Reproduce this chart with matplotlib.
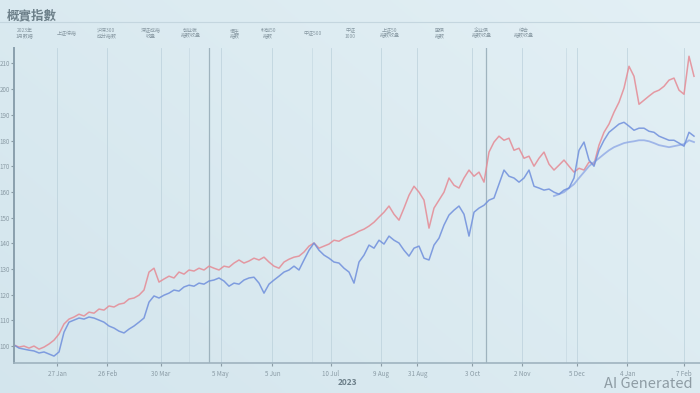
import matplotlib
matplotlib.use("Agg")
import matplotlib.pyplot as plt
import matplotlib.dates as mdates
import numpy as np
import pandas as pd

plt.rcParams['font.family'] = ['Noto Sans CJK SC', 'DejaVu Sans']

# --- data (index level) ---
start_date = "2023-01-01"
red_values = [100.4, 99.6, 100.0, 99.2, 100.0, 98.8, 99.6, 100.8, 102.3, 104.7,
              108.6, 110.5, 111.3, 112.4, 111.7, 113.2, 112.8, 114.4, 114.0, 115.6,
              115.2, 116.3, 116.7, 118.3, 118.7, 119.8, 121.8, 128.8, 130.3, 124.9,
              126.1, 127.2, 126.5, 128.8, 128.0, 129.6, 129.2, 130.3, 129.6, 131.1,
              130.3, 129.6, 131.1, 130.7, 132.3, 133.5, 132.3, 133.1, 134.2, 133.5,
              134.6, 132.7, 131.1, 130.3, 132.7, 133.8, 134.6, 135.0, 136.6, 138.9,
              140.1, 138.1, 138.9, 139.7, 141.2, 140.8, 142.0, 142.8, 143.6, 144.7,
              145.5, 146.7, 148.2, 150.2, 152.1, 154.5, 151.3, 149.0, 153.7, 158.7,
              162.2, 159.9, 156.8, 145.9, 153.7, 156.8, 159.9, 165.4, 162.6, 161.5,
              165.4, 168.5, 166.1, 167.7, 163.8, 175.5, 179.4, 181.7, 180.1, 180.9,
              176.2, 177.0, 173.1, 173.9, 170.0, 173.1, 175.5, 170.8, 168.5, 170.4,
              172.4, 170.0, 167.7, 169.2, 168.5, 171.6, 170.8, 178.2, 183.2, 186.4,
              191.0, 194.9, 200.4, 208.9, 205.0, 194.1, 195.7, 197.3, 198.8, 199.6,
              201.1, 203.5, 204.3, 199.6, 198.0, 212.8, 205.0]
blue_values = [100.4, 99.2, 98.8, 98.4, 98.1, 97.3, 97.7, 96.9, 96.1, 97.7,
               105.4, 109.3, 110.1, 110.9, 110.5, 111.3, 110.9, 110.1, 109.3, 107.8,
               107.0, 105.8, 105.1, 106.6, 107.8, 109.3, 110.9, 117.1, 119.5, 118.7,
               119.8, 120.6, 121.8, 121.4, 123.0, 123.7, 123.3, 124.5, 124.1, 125.3,
               125.7, 126.5, 125.3, 123.3, 124.5, 124.1, 125.7, 126.5, 126.8, 124.5,
               120.6, 124.1, 125.7, 127.2, 128.8, 129.6, 131.1, 129.6, 133.5, 137.3,
               140.1, 137.3, 135.4, 134.2, 132.7, 132.3, 130.3, 128.8, 124.5, 132.7,
               135.4, 139.3, 138.1, 141.2, 139.7, 142.8, 141.2, 140.1, 137.3, 135.0,
               138.1, 138.9, 134.2, 133.5, 139.3, 142.0, 147.1, 151.0, 152.9, 154.5,
               151.3, 142.8, 152.1, 153.7, 154.8, 156.8, 157.6, 163.0, 168.5, 166.1,
               165.4, 163.8, 165.4, 168.5, 162.2, 161.5, 160.7, 161.1, 159.9, 159.1,
               160.7, 161.5, 165.4, 176.2, 179.4, 172.4, 170.0, 176.2, 180.1, 183.2,
               184.8, 186.4, 187.1, 185.6, 184.0, 184.8, 184.8, 183.6, 183.2, 181.7,
               180.9, 180.1, 180.1, 179.0, 177.8, 183.2, 181.7]
# smoother light-blue trace at the right end (starts at point 108)
band_start = 108
band_values = [158.4, 159.1, 159.9, 161.5, 163.0, 165.4, 167.7, 170.0, 171.6, 173.1,
               174.7, 176.2, 177.4, 178.2, 179.0, 179.4, 179.7, 180.1, 180.1, 179.7,
               179.0, 178.2, 177.8, 177.4, 177.8, 178.2, 178.6, 180.1, 179.4]

y_ticks = [100, 110, 120, 130, 140, 150, 160, 170, 180, 190, 200, 210]
x_tick_dates = ["2023-01-27", "2023-02-26", "2023-03-30", "2023-05-05", "2023-06-05",
                "2023-07-10", "2023-08-09", "2023-08-31", "2023-10-03", "2023-11-02",
                "2023-12-05", "2024-01-04", "2024-02-07"]
legend_items = ["2023年\n1月数据", "上证综指", "沪深300\n成分指数", "深证成指\n收盘", "创业板\n指数收盘",
                "恒生\n指数", "科创50\n指数", "中证500", "中证\n1000", "上证50\n指数收盘",
                "国债\n指数", "企业债\n指数收盘", "综合\n指数收盘"]
title = "概實指數"

dates = pd.date_range(start_date, periods=len(red_values), freq="3D")

fig = plt.figure(figsize=(7, 3.93), dpi=100)

# soft light-blue background
bg = fig.add_axes([0, 0, 1, 1], zorder=-10)
grad = np.linspace(0, 1, 256)
gx, gy = np.meshgrid(grad, grad)
c0 = np.array([0.83, 0.90, 0.93])
c1 = np.array([0.89, 0.94, 0.96])
img = c0 + (c1 - c0) * (0.6 * gx + 0.4 * (1 - gy))[..., None]
bg.imshow(img, aspect="auto", extent=[0, 1, 0, 1])
bg.axis("off")

ax = fig.add_axes([0.02, 0.0763, 0.98, 0.8015])
ax.patch.set_alpha(0)

ax.plot(dates, red_values, color="#e58a94", lw=1.1, alpha=0.85)
ax.plot(dates[band_start:band_start + len(band_values)], band_values,
        color="#8fa9e6", lw=1.3, alpha=0.8)
ax.plot(dates, blue_values, color="#6f8fdc", lw=1.1, alpha=0.85)

ax.set_xlim(pd.Timestamp(start_date), pd.Timestamp(start_date) + pd.Timedelta(days=411.6))
ax.set_ylim(93.4, 216)

ax.set_yticks(y_ticks)
ax.set_yticklabels([str(v) for v in y_ticks])
ax.tick_params(axis="y", labelsize=4.5, colors="#8a9ba5", length=2, pad=1)
ax.set_xticks(pd.to_datetime(x_tick_dates))
ax.xaxis.set_major_formatter(mdates.DateFormatter("%-d %b"))
ax.tick_params(axis="x", labelsize=4.5, colors="#8a9ba5", length=2, pad=3)

for d in x_tick_dates:
    ax.axvline(pd.Timestamp(d), color="#b9cfda", lw=0.6, alpha=0.8, zorder=0)
for d in ["2023-04-16", "2023-06-29", "2023-11-28"]:
    ax.axvline(pd.Timestamp(d), color="#c5d8e2", lw=0.6, alpha=0.8, zorder=0)
for d in ["2023-04-28", "2023-10-11"]:
    ax.axvline(pd.Timestamp(d), color="#90a6b2", lw=0.9, alpha=0.8, zorder=0)

for s in ["top", "right"]:
    ax.spines[s].set_visible(False)
ax.spines["left"].set_color("#8aa0ad")
ax.spines["left"].set_linewidth(1.4)
ax.spines["bottom"].set_color("#9fb3bf")
ax.spines["bottom"].set_linewidth(1.2)

fig.text(0.01, 0.975, title, fontsize=9, color="#6c7f89", va="top", fontweight="bold")
fig.add_artist(plt.Line2D([0, 1], [0.945, 0.945], color="#c4d6df", lw=0.8))

leg_x = [0.035, 0.095, 0.152, 0.215, 0.272, 0.335, 0.383, 0.447, 0.50, 0.557,
         0.628, 0.688, 0.748]
for x, lab in zip(leg_x, legend_items):
    fig.text(x, 0.915, lab, fontsize=3.6, color="#8697a1", ha="center", va="center",
             linespacing=1.1)

fig.text(0.497, 0.02, "2023", fontsize=6, color="#6c7f89", ha="center", fontweight="bold")
fig.text(0.99, 0.012, "AI Generated", fontsize=10.5, color="#8e9ca4", ha="right")

fig.savefig("out.png", dpi=100)
